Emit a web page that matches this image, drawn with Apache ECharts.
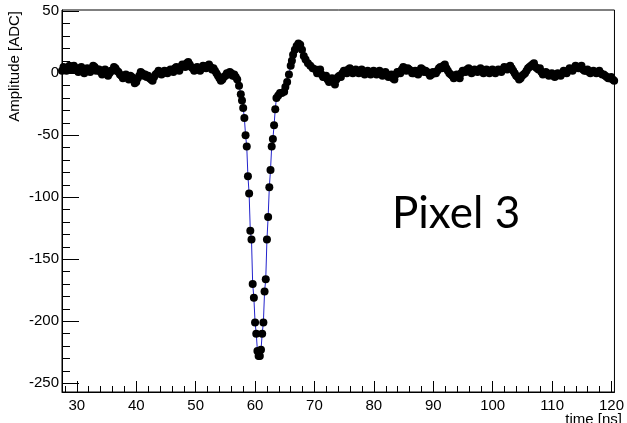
<!DOCTYPE html>
<html>
<head>
<meta charset="utf-8">
<script src="https://cdn.jsdelivr.net/npm/echarts@6/dist/echarts.min.js"></script>
<style>html,body{margin:0;padding:0;background:#fff}#c{width:627px;height:423px}</style>
</head>
<body>
<div id="c"></div>
<script>
// Baseline before the pulse: time [ns] and amplitude [ADC]
const preTimes = [
27.5,27.75,28,28.25,28.5,28.75,29,29.25,29.5,29.75,
30,30.25,30.5,30.75,31,31.25,31.5,31.75,32,32.25,
32.5,32.75,33,33.25,33.5,33.75,34,34.25,34.5,34.75,
35,35.25,35.5,35.75,36,36.25,36.5,36.75,37,37.25,
37.5,37.75,38,38.25,38.5,38.75,39,39.25,39.5,39.75,
40,40.25,40.5,40.75,41,41.25,41.5,41.75,42,42.25,
42.5,42.75,43,43.25,43.5,43.75,44,44.25,44.5,44.75,
45,45.25,45.5,45.75,46,46.25,46.5,46.75,47,47.25,
47.5,47.75,48,48.25,48.5,48.75,49,49.25,49.5,49.75,
50,50.25,50.5,50.75,51,51.25,51.5,51.75,52,52.25,
52.5,52.75,53,53.25,53.5,53.75,54,54.25,54.5,54.75,
55,55.25,55.5,55.75,56,56.25,56.5,56.75,57
];
const preAmps = [
2,5,4,2,3,6,5,3,6,4,
4,1,3,5,2,0,3,4,2,1,
4,6,5,2,3,3,1,-1,2,3,
0,-2,0,2,2,5,4,2,1,-1,
-2,-4,-2,-1,-3,-5,-2,-3,-5,-8,
-7,-4,-2,1,0,-2,-1,-3,-2,-4,
-5,-6,-3,-1,0,2,1,-1,0,2,
1,0,2,3,2,1,4,5,3,2,
5,7,6,5,8,9,7,5,4,2,
3,5,3,2,4,6,5,4,6,7,
5,3,4,2,0,-2,-4,-6,-5,-3,
-2,0,-1,1,0,-2,-1,-3,-5
];
// The pulse
const pulseTimes = [
57.3,57.6,57.8,
58.0,58.2,58.4,58.6,58.8,
59.0,59.2,59.4,59.6,59.8,
60.0,60.2,60.4,60.6,60.8,
61.0,61.2,61.4,61.6,61.8,
62.0,62.2,62.4,62.6,62.8,
63.0,63.2,63.4,63.6,
63.9,64.2,64.5,64.9,65.1,65.4,65.7,66.0,
66.2,66.4,66.7,67.0,67.3,67.6,67.9,
68.2,68.5,68.9,69.3,69.7
];
const pulseAmps = [
-10,-17,-22,
-28,-36,-50,-59,-83,
-97,-127,-134,-170,-181,
-201,-210,-224,-228,-228,
-223,-210,-201,-176,-166,
-134,-116,-92,-78,-59,
-53,-42,-29,-20,
-18,-16,-16,-15,-11,-7,-1,6,
10,15,19,22,24,23,19,
14,11,8,6,4
];
// Baseline after the pulse
const postTimes = [
70.2,70.45,70.7,70.95,71.2,71.45,71.7,71.95,72.2,72.45,
72.7,72.95,73.2,73.45,73.7,73.95,74.2,74.45,74.7,74.95,
75.2,75.45,75.7,75.95,76.2,76.45,76.7,76.95,77.2,77.45,
77.7,77.95,78.2,78.45,78.7,78.95,79.2,79.45,79.7,79.95,
80.2,80.45,80.7,80.95,81.2,81.45,81.7,81.95,82.2,82.45,
82.7,82.95,83.2,83.45,83.7,83.95,84.2,84.45,84.7,84.95,
85.2,85.45,85.7,85.95,86.2,86.45,86.7,86.95,87.2,87.45,
87.7,87.95,88.2,88.45,88.7,88.95,89.2,89.45,89.7,89.95,
90.2,90.45,90.7,90.95,91.2,91.45,91.7,91.95,92.2,92.45,
92.7,92.95,93.2,93.45,93.7,93.95,94.2,94.45,94.7,94.95,
95.2,95.45,95.7,95.95,96.2,96.45,96.7,96.95,97.2,97.45,
97.7,97.95,98.2,98.45,98.7,98.95,99.2,99.45,99.7,99.95,
100.2,100.45,100.7,100.95,101.2,101.45,101.7,101.95,102.2,102.45,
102.7,102.95,103.2,103.45,103.7,103.95,104.2,104.45,104.7,104.95,
105.2,105.45,105.7,105.95,106.2,106.45,106.7,106.95,107.2,107.45,
107.7,107.95,108.2,108.45,108.7,108.95,109.2,109.45,109.7,109.95,
110.2,110.45,110.7,110.95,111.2,111.45,111.7,111.95,112.2,112.45,
112.7,112.95,113.2,113.45,113.7,113.95,114.2,114.45,114.7,114.95,
115.2,115.45,115.7,115.95,116.2,116.45,116.7,116.95,117.2,117.45,
117.7,117.95,118.2,118.45,118.7,118.95,119.2,119.45,119.7,119.95,
120.2,120.45
];
const postAmps = [
3,0,1,3,-1,-3,-3,-2,-5,-7,
-6,-4,-7,-9,-5,-3,-2,-3,0,2,
2,0,3,4,2,0,1,3,2,0,
1,3,1,-1,0,2,1,-1,0,2,
1,-1,0,2,0,-2,-1,1,-1,-3,
-2,-1,-4,-5,-1,1,1,0,3,5,
4,2,4,3,2,0,0,2,1,-1,
2,4,3,1,2,1,0,-2,-1,1,
0,0,2,4,5,4,6,7,4,2,
0,-1,-2,-4,-3,-1,-3,-4,0,2,
2,1,3,4,2,0,2,3,2,1,
2,4,2,0,1,3,2,0,2,3,
1,0,2,3,2,1,3,5,4,3,
5,6,4,2,0,-2,-3,-5,-4,-2,
-1,0,2,4,5,6,7,8,5,4,
3,4,1,-1,0,1,0,-2,-1,0,
-2,-3,-2,0,-1,-2,0,2,1,0,
2,4,3,2,4,6,5,4,5,6,
3,2,2,3,1,0,1,2,1,0,
1,2,0,-1,-1,-2,-3,-4,-4,-3,
-5,-6
];
const yMajor = [-250,-200,-150,-100,-50,0,50];
const yMinor = [-250,-240,-230,-220,-210,-200,-190,-180,-170,-160,-150,-140,-130,-120,-110,-100,-90,-80,-70,-60,-50,-40,-30,-20,-10,0,10,20,30,40,50];
const xMajor = [30,40,50,60,70,80,90,100,110,120];
const xMinor = [28,30,32,34,36,38,40,42,44,46,48,50,52,54,56,58,60,62,64,66,68,70,72,74,76,78,80,82,84,86,88,90,92,94,96,98,100,102,104,106,108,110,112,114,116,118,120];

const times = preTimes.concat(pulseTimes, postTimes);
const amplitudes = preAmps.concat(pulseAmps, postAmps);
const points = times.map((t, i) => [t, amplitudes[i]]);
const FONT = '"Liberation Sans", Arial, sans-serif';
const chart = echarts.init(document.getElementById('c'), null, {renderer: 'canvas'});
const xBase = {type: 'value', min: 27.5, max: 120.5, gridIndex: 0, splitLine: {show: false}};
const yBase = {type: 'value', min: -257, max: 51, gridIndex: 0, splitLine: {show: false}};
chart.setOption({
  animation: false,
  grid: {left: 62, right: 4, top: 10, bottom: 31, show: true, borderColor: '#000', borderWidth: 1, backgroundColor: 'transparent'},
  xAxis: [
    Object.assign({}, xBase, {
      position: 'bottom',
      axisLine: {show: true, onZero: false, lineStyle: {color: '#000', width: 1}},
      axisTick: {show: true, inside: true, length: 11, customValues: xMajor, lineStyle: {color: '#000'}},
      axisLabel: {show: true, customValues: xMajor, margin: 6, color: '#000', fontSize: 15, fontFamily: FONT}
    }),
    Object.assign({}, xBase, {
      position: 'bottom',
      axisLine: {show: false, onZero: false},
      axisTick: {show: true, inside: true, length: 6, customValues: xMinor, lineStyle: {color: '#000'}},
      axisLabel: {show: false}
    })
  ],
  yAxis: [
    Object.assign({}, yBase, {
      position: 'left',
      axisLine: {show: true, onZero: false, lineStyle: {color: '#000', width: 1}},
      axisTick: {show: true, inside: true, length: 17, customValues: yMajor, lineStyle: {color: '#000'}},
      axisLabel: {show: true, customValues: yMajor, margin: 3, color: '#000', fontSize: 15, fontFamily: FONT}
    }),
    Object.assign({}, yBase, {
      position: 'left',
      axisLine: {show: false, onZero: false},
      axisTick: {show: true, inside: true, length: 8, customValues: yMinor, lineStyle: {color: '#000'}},
      axisLabel: {show: false}
    })
  ],
  series: [{
    type: 'line',
    xAxisIndex: 0,
    yAxisIndex: 0,
    data: points,
    clip: false,
    showSymbol: true,
    showAllSymbol: true,
    symbol: 'circle',
    symbolSize: 8,
    itemStyle: {color: '#000', borderWidth: 0},
    lineStyle: {color: '#2222cc', width: 1},
    emphasis: {disabled: true}
  }],
  graphic: [
    {type: 'text', x: 15, y: 11, rotation: Math.PI / 2,
     style: {text: 'Amplitude [ADC]', font: '15px ' + FONT, fill: '#000', align: 'right', verticalAlign: 'middle'}},
    {type: 'text', x: 622, y: 412,
     style: {text: 'time [ns]', font: '15px ' + FONT, fill: '#000', align: 'right', verticalAlign: 'top'}},
    {type: 'text', x: 392, y: 236,
     style: {text: 'Pixel 3', font: '44px Lato, "Open Sans", sans-serif', fill: '#000', align: 'left', verticalAlign: 'bottom'}}
  ]
});
</script>
</body>
</html>
